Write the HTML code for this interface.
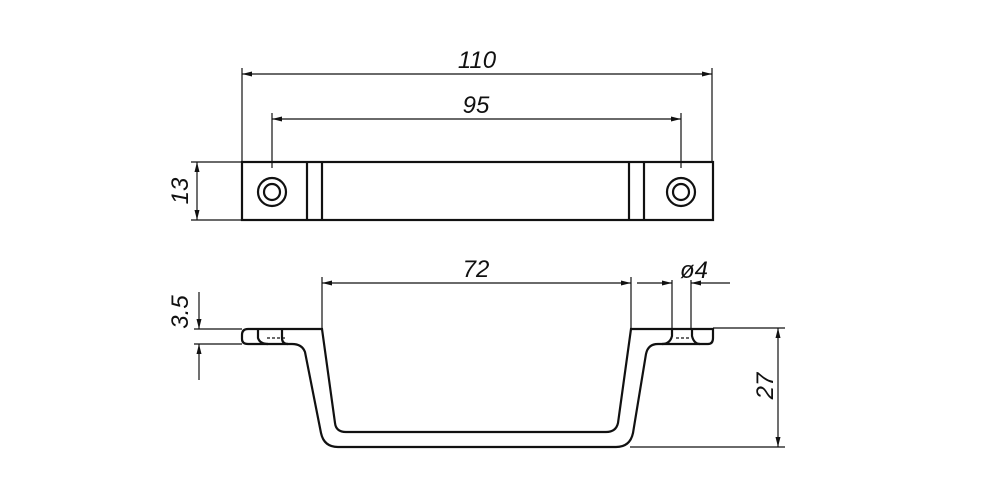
<!DOCTYPE html><html><head><style>body{margin:0;background:#fff}svg{display:block}text{font-family:"Liberation Sans",sans-serif;font-style:italic;font-size:24px;fill:#111}</style></head><body>
<svg width="1000" height="500" viewBox="0 0 1000 500" xmlns="http://www.w3.org/2000/svg">
<defs><marker id="a" viewBox="0 0 10 6" refX="10" refY="3" markerWidth="14" markerHeight="6" markerUnits="userSpaceOnUse" orient="auto-start-reverse"><path d="M0,0.5L10,3L0,5.5z" fill="#111"/></marker></defs>
<g stroke="#111" fill="none">
<g stroke-width="2.2">
<rect x="242" y="162" width="471" height="58"/>
<line x1="307" y1="162" x2="307" y2="220"/><line x1="322" y1="162" x2="322" y2="220"/>
<line x1="629" y1="162" x2="629" y2="220"/><line x1="644" y1="162" x2="644" y2="220"/>
<circle cx="272" cy="192" r="14"/><circle cx="272" cy="192" r="8"/>
<circle cx="681" cy="192" r="14"/><circle cx="681" cy="192" r="8"/>
<!-- bottom part -->
<path d="M322,329 L248,329 Q242,329 242,335 L242,339 Q242,344 248,344 L292,344 Q302,344 305,352 L321,433 Q324,447 338,447 L616,447 Q630,447 633,433 L646,354 Q648,344 658,344 L708,344 Q713,344 713,338 L713,329 L631,329 L618,423 Q616,432 606,432 L346,432 Q336,432 335,423 Z"/>
<path d="M258,329 L258,338 Q260,344 268,344"/>
<path d="M282,329 L282,338 Q282,344 288,344"/>
<path d="M672,329 L672,336 Q670,344 662,344"/>
<path d="M692,329 L692,336 Q694,344 700,344"/>
</g>
<g stroke-width="1.2">
<path d="M267,338 H286 M676,338 H690" stroke-dasharray="3,2"/>
<line x1="242" y1="68" x2="242" y2="162"/><line x1="712" y1="68" x2="712" y2="162"/>
<line x1="242" y1="74" x2="712" y2="74" marker-start="url(#a)" marker-end="url(#a)"/>
<line x1="272" y1="113" x2="272" y2="168"/><line x1="681" y1="113" x2="681" y2="168"/>
<line x1="272" y1="119" x2="681" y2="119" marker-start="url(#a)" marker-end="url(#a)"/>
<line x1="191" y1="162" x2="242" y2="162"/><line x1="191" y1="220" x2="242" y2="220"/>
<line x1="197" y1="162" x2="197" y2="220" marker-start="url(#a)" marker-end="url(#a)"/>
<line x1="322" y1="277" x2="322" y2="329"/><line x1="631" y1="277" x2="631" y2="329"/>
<line x1="322" y1="283" x2="631" y2="283" marker-start="url(#a)" marker-end="url(#a)"/>
<line x1="672" y1="280" x2="672" y2="329"/><line x1="691" y1="280" x2="691" y2="329"/>
<line x1="637" y1="283" x2="672" y2="283" marker-end="url(#a)"/>
<line x1="730" y1="283" x2="691" y2="283" marker-end="url(#a)"/>
<line x1="194" y1="329" x2="242" y2="329"/><line x1="194" y1="344" x2="242" y2="344"/>
<line x1="199" y1="292" x2="199" y2="329" marker-end="url(#a)"/>
<line x1="199" y1="380" x2="199" y2="344" marker-end="url(#a)"/>
<line x1="713" y1="328" x2="785" y2="328"/><line x1="630" y1="447" x2="785" y2="447"/>
<line x1="778" y1="328" x2="778" y2="447" marker-start="url(#a)" marker-end="url(#a)"/>
</g></g>
<text x="477" y="68" text-anchor="middle">110</text>
<text x="476" y="113" text-anchor="middle">95</text>
<text x="476" y="277" text-anchor="middle">72</text>
<text x="694" y="278" text-anchor="middle">ø4</text>
<text transform="translate(188,191) rotate(-90)" text-anchor="middle">13</text>
<text transform="translate(188,312) rotate(-90)" text-anchor="middle">3.5</text>
<text transform="translate(773,386) rotate(-90)" text-anchor="middle">27</text>
</svg></body></html>
